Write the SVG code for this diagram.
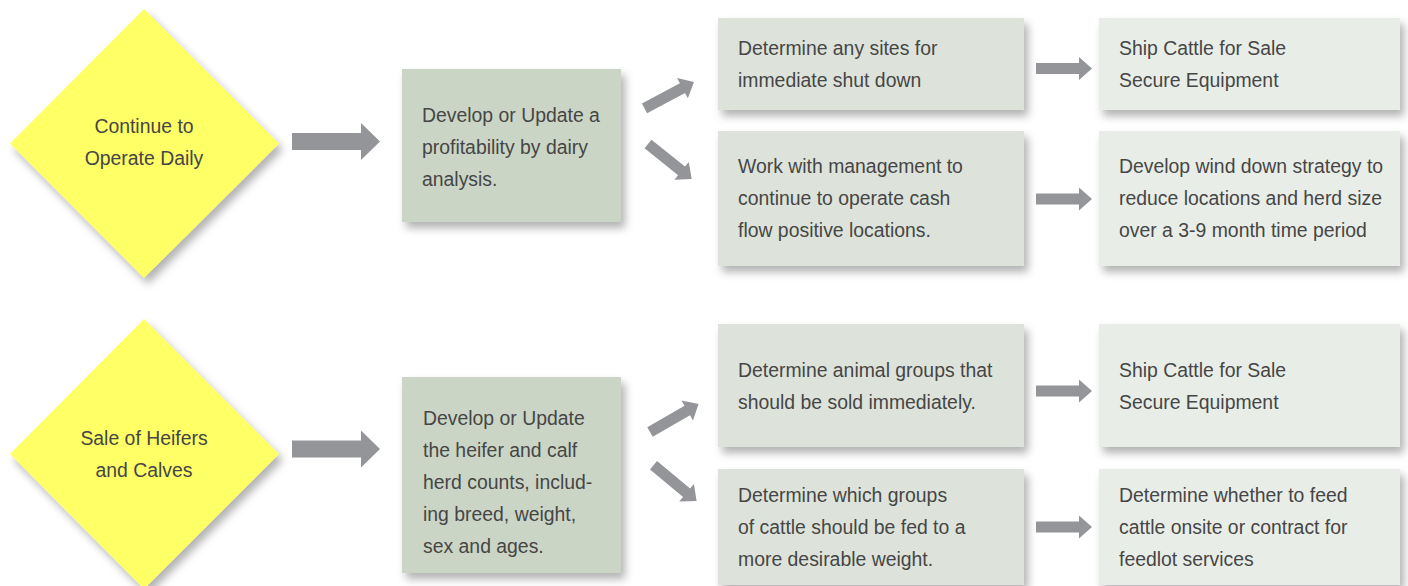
<svg xmlns="http://www.w3.org/2000/svg" xmlns:xlink="http://www.w3.org/1999/xlink" width="1408" height="586" viewBox="0 0 1408 586">
  <style>
    text { font-family: "Liberation Sans", "DejaVu Sans", sans-serif; font-size: 19.4px; fill: #464646; }
    .c { text-anchor: middle; }
    .dia { fill: #ffff66; filter: url(#sh); }
    .mid { fill: #cbd5c5; filter: url(#sh); }
    .b1 { fill: #dde3da; filter: url(#sh); }
    .b2 { fill: #e9ede7; filter: url(#sh); }
    .arr { fill: #939598; }
  </style>
  <defs>
    <filter id="sh" x="-10%" y="-10%" width="130%" height="140%">
      <feDropShadow dx="4" dy="6" stdDeviation="4" flood-color="#000" flood-opacity="0.3"/>
    </filter>
    <path id="sa" d="M0,-5.5 H43 V-11.5 L56,0 L43,11.5 V5.5 H0 Z"/>
    <path id="ba" d="M0,-8.5 H69 V-18.5 L88,0 L69,18.5 V8.5 H0 Z"/>
  </defs>

  <rect width="1408" height="586" fill="#ffffff"/>

  <g id="connectors" class="arr">
    <use xlink:href="#ba" transform="translate(292,141.5)"/>
    <use xlink:href="#ba" transform="translate(292,449)"/>
    <use xlink:href="#sa" transform="translate(644.5,108.3) rotate(-28)"/>
    <use xlink:href="#sa" transform="translate(648,144) rotate(38.7)"/>
    <use xlink:href="#sa" transform="translate(650,432) rotate(-29.9)"/>
    <use xlink:href="#sa" transform="translate(653.5,465.3) rotate(39.7)"/>
    <use xlink:href="#sa" transform="translate(1036,68.5)"/>
    <use xlink:href="#sa" transform="translate(1036,199)"/>
    <use xlink:href="#sa" transform="translate(1036,391)"/>
    <use xlink:href="#sa" transform="translate(1036,527)"/>
  </g>

  <g id="n-continue">
    <polygon class="dia" points="144,9 279,143.5 144,278 10,143.5"/>
    <text class="c" x="144" y="133">Continue to</text>
    <text class="c" x="144" y="165">Operate Daily</text>
  </g>
  <g id="n-heifers">
    <polygon class="dia" points="144,319 279,454 144,589 10,454"/>
    <text class="c" x="144" y="445">Sale of Heifers</text>
    <text class="c" x="144" y="477">and Calves</text>
  </g>

  <g id="n-profit">
    <rect class="mid" x="402" y="69" width="219" height="153"/>
    <text x="422" y="122">Develop or Update a</text>
    <text x="422" y="154">profitability by dairy</text>
    <text x="422" y="186">analysis.</text>
  </g>
  <g id="n-herdcounts">
    <rect class="mid" x="402" y="377" width="219" height="196"/>
    <text x="423" y="425">Develop or Update</text>
    <text x="423" y="457">the heifer and calf</text>
    <text x="423" y="489">herd counts, includ-</text>
    <text x="423" y="521">ing breed, weight,</text>
    <text x="423" y="553">sex and ages.</text>
  </g>

  <g id="n-shutdown">
    <rect class="b1" x="718" y="18" width="306" height="92"/>
    <text x="738" y="55">Determine any sites for</text>
    <text x="738" y="87">immediate shut down</text>
  </g>
  <g id="n-work">
    <rect class="b1" x="718" y="131" width="306" height="135"/>
    <text x="738" y="173">Work with management to</text>
    <text x="738" y="205">continue to operate cash</text>
    <text x="738" y="237">flow positive locations.</text>
  </g>
  <g id="n-animalgroups">
    <rect class="b1" x="718" y="324" width="306" height="123"/>
    <text x="738" y="377">Determine animal groups that</text>
    <text x="738" y="409">should be sold immediately.</text>
  </g>
  <g id="n-fedgroups">
    <rect class="b1" x="718" y="469" width="306" height="116"/>
    <text x="738" y="502">Determine which groups</text>
    <text x="738" y="534">of cattle should be fed to a</text>
    <text x="738" y="566">more desirable weight.</text>
  </g>

  <g id="n-ship1">
    <rect class="b2" x="1099" y="18" width="301" height="92"/>
    <text x="1119" y="55">Ship Cattle for Sale</text>
    <text x="1119" y="87">Secure Equipment</text>
  </g>
  <g id="n-winddown">
    <rect class="b2" x="1099" y="131" width="301" height="135"/>
    <text x="1119" y="173">Develop wind down strategy to</text>
    <text x="1119" y="205">reduce locations and herd size</text>
    <text x="1119" y="237">over a 3-9 month time period</text>
  </g>
  <g id="n-ship2">
    <rect class="b2" x="1099" y="324" width="301" height="123"/>
    <text x="1119" y="377">Ship Cattle for Sale</text>
    <text x="1119" y="409">Secure Equipment</text>
  </g>
  <g id="n-feedlot">
    <rect class="b2" x="1099" y="469" width="301" height="116"/>
    <text x="1119" y="502">Determine whether to feed</text>
    <text x="1119" y="534">cattle onsite or contract for</text>
    <text x="1119" y="566">feedlot services</text>
  </g>
</svg>
